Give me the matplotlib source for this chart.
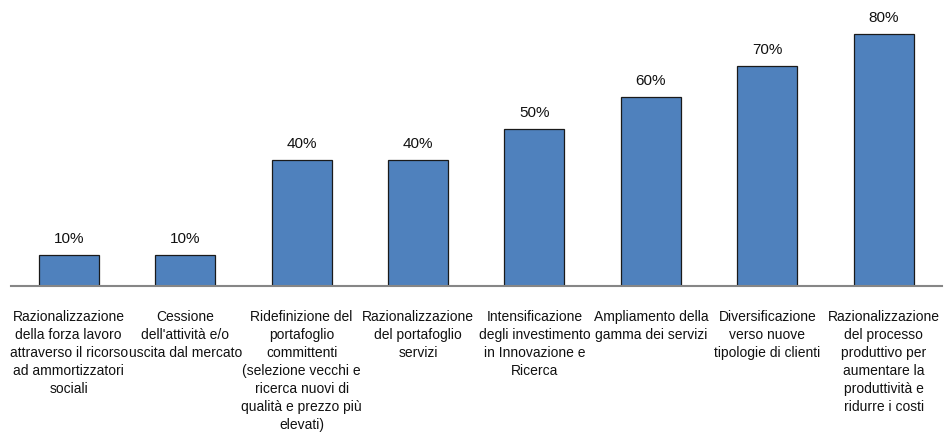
import matplotlib.pyplot as plt

categories = [
    "Razionalizzazione\ndella forza lavoro\nattraverso il ricorso\nad ammortizzatori\nsociali",
    "Cessione\ndell'attività e/o\nuscita dal mercato",
    "Ridefinizione del\nportafoglio\ncommittenti\n(selezione vecchi e\nricerca nuovi di\nqualità e prezzo più\nelevati)",
    "Razionalizzazione\ndel portafoglio\nservizi",
    "Intensificazione\ndegli investimento\nin Innovazione e\nRicerca",
    "Ampliamento della\ngamma dei servizi",
    "Diversificazione\nverso nuove\ntipologie di clienti",
    "Razionalizzazione\ndel processo\nproduttivo per\naumentare la\nproduttività e\nridurre i costi",
]
values = [0.10, 0.10, 0.40, 0.40, 0.50, 0.60, 0.70, 0.80]

fig = plt.figure(figsize=(9.46, 4.36), dpi=100)
ax = fig.add_axes([10.5 / 946, 150 / 436, 931.5 / 946, 283.5 / 436])

x = range(len(values))
bars = ax.bar(x, values, width=0.515, color="#4F81BD", edgecolor="#1a1a1a", linewidth=0.9)
for b, v in zip(bars, values):
    ax.text(b.get_x() + b.get_width() / 2, v + 0.027, f"{v:.0%}",
            ha="center", va="bottom", fontsize=11, family="Liberation Sans", color="#111111")

ax.set_xlim(-0.5, len(values) - 0.5)
ax.set_ylim(0, 0.9)
ax.set_yticks([])
ax.set_xticks(list(x))
ax.set_xticklabels(categories, fontsize=10, family="Liberation Sans", color="#111111", linespacing=1.375)
ax.tick_params(axis="x", length=0, pad=17)
for side in ["top", "right", "left"]:
    ax.spines[side].set_visible(False)
ax.spines["bottom"].set_color("#868686")
ax.spines["bottom"].set_linewidth(1.5)

fig.savefig("out.png", dpi=100)
